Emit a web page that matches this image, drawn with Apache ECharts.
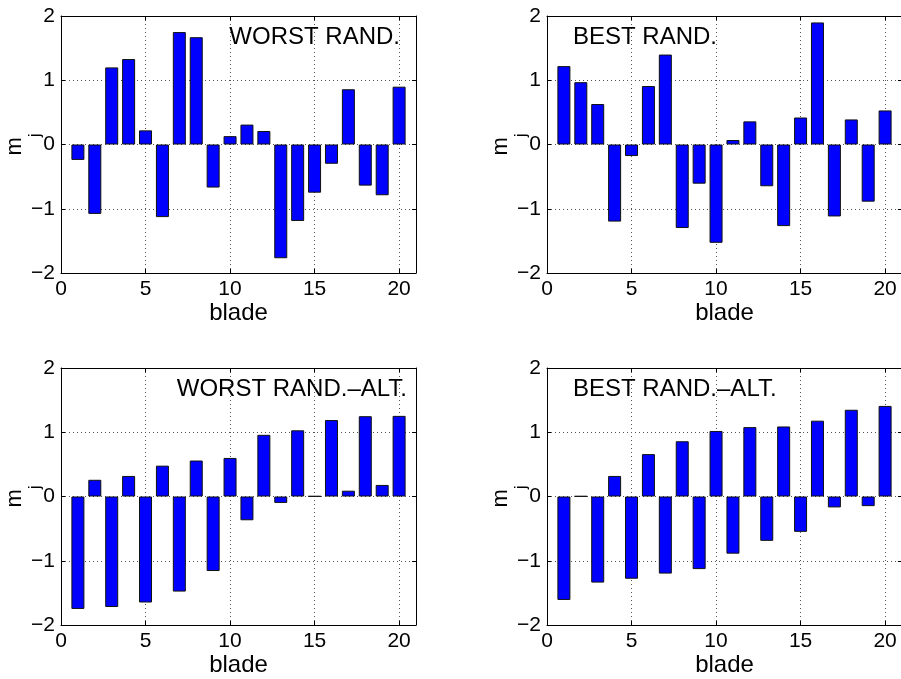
<!DOCTYPE html>
<html><head><meta charset="utf-8">
<script src="https://cdn.jsdelivr.net/npm/echarts@6/dist/echarts.min.js"></script>
<style>html,body{margin:0;padding:0;background:#fff}#c{width:901px;height:679px}</style>
</head><body><div id="c"></div>
<script>
const blades = [1,2,3,4,5,6,7,8,9,10,11,12,13,14,15,16,17,18,19,20];
const worstRand = [-0.24,-1.08,1.20,1.33,0.22,-1.13,1.75,1.67,-0.67,0.13,0.31,0.21,-1.77,-1.19,-0.75,-0.30,0.86,-0.64,-0.79,0.90];
const bestRand = [1.22,0.97,0.63,-1.20,-0.18,0.91,1.40,-1.30,-0.61,-1.53,0.07,0.36,-0.65,-1.27,0.42,1.90,-1.12,0.39,-0.89,0.53];
const worstRandAlt = [-1.75,0.26,-1.72,0.32,-1.65,0.48,-1.48,0.56,-1.16,0.60,-0.37,0.96,-0.10,1.03,0.005,1.19,0.09,1.25,0.18,1.255];
const bestRandAlt = [-1.61,0.005,-1.34,0.32,-1.28,0.66,-1.20,0.86,-1.13,1.02,-0.89,1.08,-0.69,1.09,-0.55,1.18,-0.17,1.35,-0.15,1.41];
const panelTitles = ['WORST RAND.', 'BEST RAND.', 'WORST RAND.\u2013ALT.', 'BEST RAND.\u2013ALT.'];
const xLabel = 'blade';
const yLabelMain = 'm';
const yLabelSub = 'j';

const FONT = 'Liberation Sans, Arial, Helvetica, sans-serif';
const panels = [worstRand, bestRand, worstRandAlt, bestRandAlt];
const gridPos = [
  {left: 61, top: 16}, {left: 547, top: 16},
  {left: 61, top: 368}, {left: 547, top: 368}
];
const titlePos = [
  {right: 501, top: 25}, {left: 573, top: 25},
  {right: 494, top: 377}, {left: 573, top: 377}
];
const fmt = v => (v < 0 ? '\u2212' + (-v) : '' + v);

const grid = [], xAxis = [], yAxis = [], series = [], title = [];
panels.forEach((vals, i) => {
  grid.push({left: gridPos[i].left, top: gridPos[i].top, width: 355, height: 257, show: false,
             containLabel: false, outerBoundsMode: 'none'});
  title.push(Object.assign({
    text: panelTitles[i], padding: 0,
    textStyle: {fontFamily: FONT, fontSize: 24, fontWeight: 'normal', color: '#000'}
  }, titlePos[i]));
  const lineStyle = {color: '#000', width: 1};
  xAxis.push({
    type: 'value', gridIndex: i, min: 0, max: 21, interval: 5, position: 'bottom',
    axisLine: {show: true, onZero: false, lineStyle},
    axisTick: {show: true, inside: true, length: 4, lineStyle},
    axisLabel: {show: true, showMaxLabel: false, margin: 6, color: '#000', fontFamily: FONT, fontSize: 21, formatter: fmt},
    splitLine: {show: true, lineStyle: {color: '#555', type: [1, 3], width: 1}},
    name: xLabel, nameLocation: 'middle', nameGap: 28, nameMoveOverlap: false,
    nameTextStyle: {fontFamily: FONT, fontSize: 24, color: '#000'}
  });
  xAxis.push({
    type: 'value', gridIndex: i, min: 0, max: 21, interval: 5, position: 'top',
    axisLine: {show: true, onZero: false, lineStyle},
    axisTick: {show: true, inside: true, length: 4, lineStyle},
    axisLabel: {show: false}, splitLine: {show: false}
  });
  yAxis.push({
    type: 'value', gridIndex: i, min: -2, max: 2, interval: 1, position: 'left',
    axisLine: {show: true, onZero: false, lineStyle},
    axisTick: {show: true, inside: true, length: 4, lineStyle},
    axisLabel: {show: true, margin: 6, color: '#000', fontFamily: FONT, fontSize: 21, formatter: fmt},
    splitLine: {show: true, lineStyle: {color: '#555', type: [1, 3], width: 1}},
    name: '{m|' + yLabelMain + '}{j|' + yLabelSub + '}', nameLocation: 'middle', nameGap: 17,
    nameMoveOverlap: false,
    nameTextStyle: {
      fontFamily: FONT, color: '#000',
      rich: {
        m: {fontFamily: FONT, fontSize: 22, color: '#000', verticalAlign: 'top', lineHeight: 22},
        j: {fontFamily: FONT, fontSize: 16, color: '#000', verticalAlign: 'bottom', lineHeight: 40}
      }
    }
  });
  yAxis.push({
    type: 'value', gridIndex: i, min: -2, max: 2, interval: 1, position: 'right',
    axisLine: {show: true, onZero: false, lineStyle},
    axisTick: {show: true, inside: true, length: 4, lineStyle},
    axisLabel: {show: false}, splitLine: {show: false}
  });
  series.push({
    type: 'bar', xAxisIndex: i * 2, yAxisIndex: i * 2,
    data: blades.map((b, k) => [b, vals[k]]),
    barWidth: 13,
    itemStyle: {color: '#0000ff', borderColor: '#111', borderWidth: 1}
  });
});

const chart = echarts.init(document.getElementById('c'), null, {renderer: 'canvas'});
chart.setOption({animation: false, backgroundColor: '#fff', title, grid, xAxis, yAxis, series});
</script>
</body></html>
